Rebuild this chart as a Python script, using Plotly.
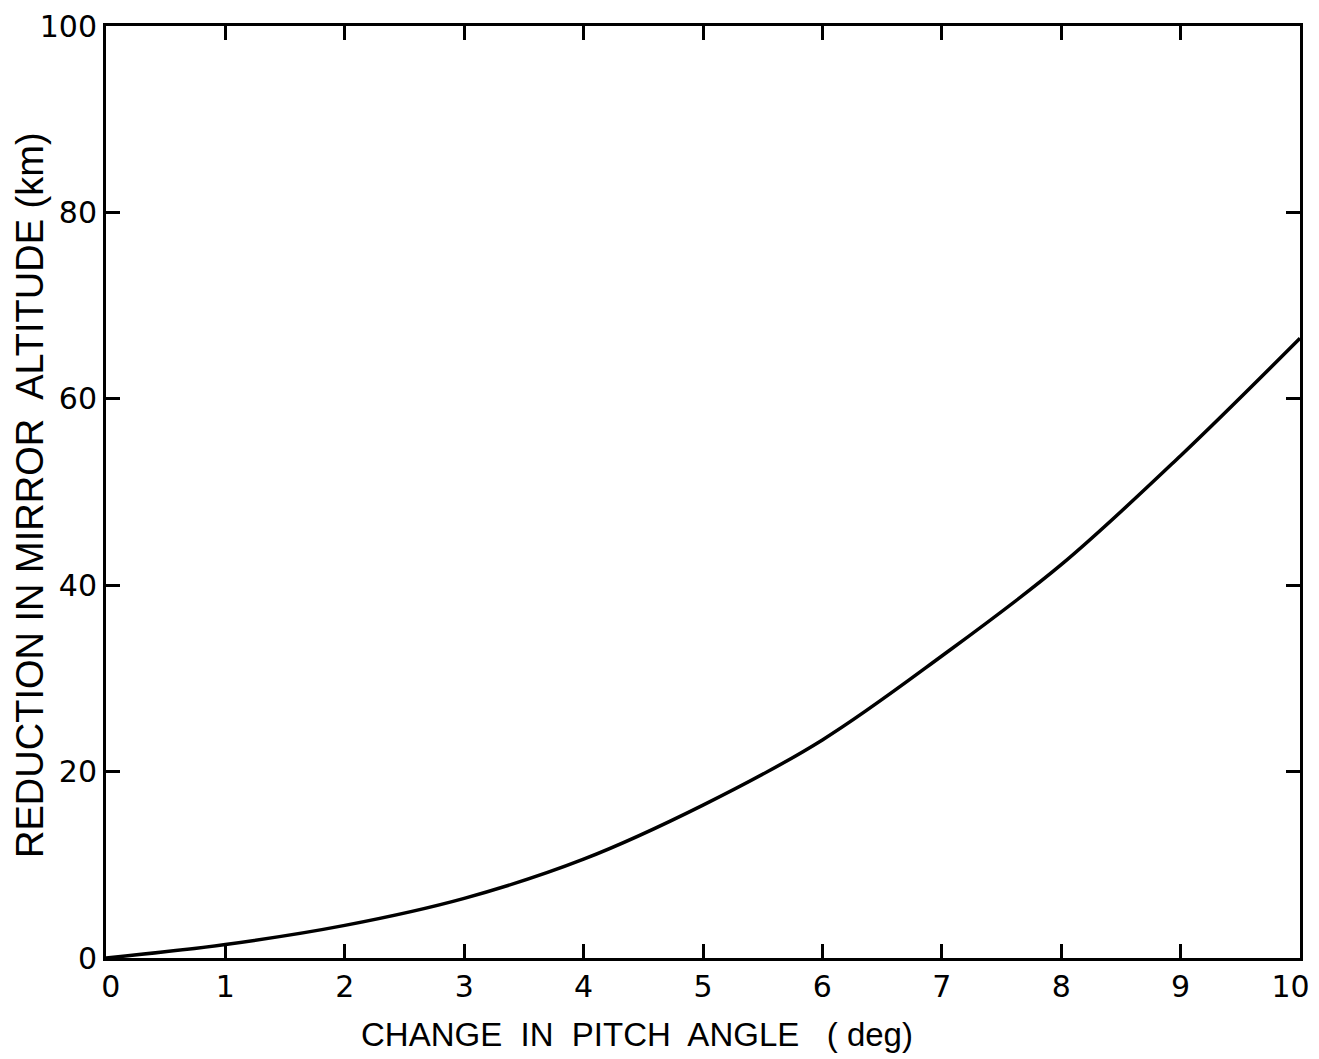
import plotly.graph_objects as go

pitch_change_deg = [0, 1, 2, 3, 4, 5, 6, 7, 8, 9, 10]
altitude_reduction_km = [0, 1.45, 3.5, 6.4, 10.6, 16.4, 23.4, 32.4, 42.2, 53.9, 66.5]

x_ticks = [0, 1, 2, 3, 4, 5, 6, 7, 8, 9, 10]
x_tick_labels = ["\u00a00", "1", "2", "3", "4", "5", "6", "7", "8", "9", "10\u00a0\u00a0"]
y_ticks = [0, 20, 40, 60, 80, 100]
y_tick_labels = ["0", "20", "40", "60", "80", "100"]

FONT = "Liberation Sans, Arial, sans-serif"
TICK_FONT = "DejaVu Sans, Liberation Sans, sans-serif"

fig = go.Figure()
fig.add_trace(go.Scatter(
    x=pitch_change_deg, y=altitude_reduction_km, mode="lines",
    line=dict(color="black", width=3.5, shape="spline", smoothing=1.0),
    showlegend=False,
))

axis_common = dict(
    showgrid=False, zeroline=False, showline=True, linecolor="black", linewidth=3,
    mirror="allticks", ticks="inside", ticklen=14, tickwidth=2.5, tickcolor="black",
    tickfont=dict(family=TICK_FONT, size=30, color="black"),
    ticklabeloverflow="allow", automargin=False,
)

fig.update_xaxes(range=[0, 10], tickvals=x_ticks, ticktext=x_tick_labels, **axis_common)
fig.update_yaxes(range=[0, 100], tickvals=y_ticks, ticktext=y_tick_labels, **axis_common)

fig.add_annotation(
    text="CHANGE  IN  PITCH  ANGLE   ( deg)", xref="paper", yref="paper",
    x=0.4447, y=-0.0826, xanchor="center", yanchor="middle", showarrow=False,
    font=dict(family=FONT, size=33, color="black"),
)
fig.add_annotation(
    text="REDUCTION IN MIRROR  ALTITUDE (km)", xref="paper", yref="paper",
    x=-0.0637, y=0.4968, xanchor="center", yanchor="middle", showarrow=False,
    textangle=-90, font=dict(family=FONT, size=38, color="black"),
)

fig.update_layout(
    width=1319, height=1059,
    margin=dict(l=98, r=27, t=18, b=109),
    plot_bgcolor="white", paper_bgcolor="white",
)

fig.write_html("out.html")
